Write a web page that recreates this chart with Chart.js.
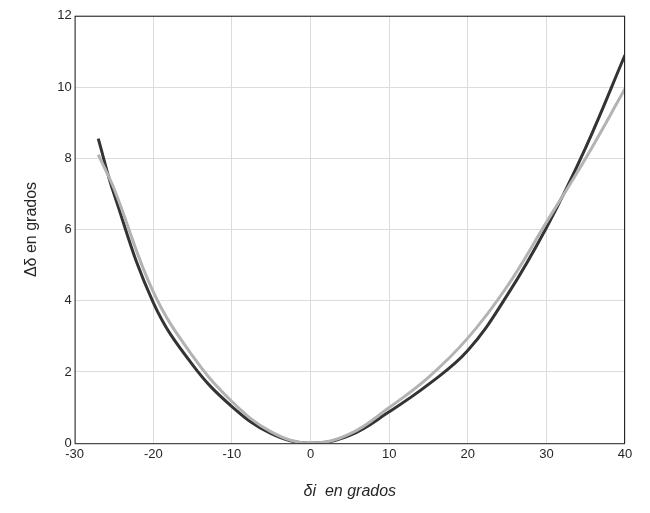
<!DOCTYPE html>
<html><head><meta charset="utf-8">
<script src="https://cdn.jsdelivr.net/npm/chart.js@4/dist/chart.umd.min.js"></script>
<style>html,body{margin:0;background:#fff}#w{width:650px;height:513px}</style>
</head><body><div id="w"><canvas id="c"></canvas></div>
<script>
const xValues=[-27,-25,-20,-15,-10,-5,0,5,10,15,20,25,30,35,40];
const darkY=[8.55,7.0,3.95,2.2,1.03,0.27,0,0.22,0.88,1.65,2.6,4.15,6.05,8.3,10.9];
const grayY=[8.1,7.15,4.25,2.45,1.17,0.32,0,0.26,1.0,1.85,2.95,4.4,6.2,8.0,9.95];
const xTicks=[-30,-20,-10,0,10,20,30,40];
const yTicks=[0,2,4,6,8,10,12];
const pts=ys=>xValues.map((x,i)=>({x,y:ys[i]}));
const F='"Liberation Sans", Arial, sans-serif';
const border={id:'b',afterDraw(c){const a=c.chartArea,g=c.ctx;g.save();g.strokeStyle='#262626';g.lineWidth=1;g.strokeRect(a.left+.5,a.top+.5,a.right-a.left-1,a.bottom-a.top);g.restore();}};
new Chart(document.getElementById('c'),{type:'line',
data:{datasets:[
{data:pts(grayY),borderColor:'#b3b3b3',borderWidth:3,pointRadius:0,tension:0.4},
{data:pts(darkY),borderColor:'#333333',borderWidth:3,pointRadius:0,tension:0.4}]},
options:{responsive:true,maintainAspectRatio:false,animation:false,
layout:{padding:{top:0,right:25,left:18,bottom:8}},
plugins:{legend:{display:false},tooltip:{enabled:false}},
scales:{
x:{type:'linear',min:-30,max:40,afterBuildTicks:s=>{s.ticks=xTicks.map(v=>({value:v}))},
grid:{color:'#dcdcdc',drawTicks:true,tickLength:-5},border:{display:false},
ticks:{color:'#262626',font:{family:F,size:13},padding:8},
title:{display:true,text:'δi  en grados',color:'#262626',font:{family:F,size:16,style:'italic'},padding:{top:12}}},
y:{min:0,max:12,afterBuildTicks:s=>{s.ticks=yTicks.map(v=>({value:v}))},
grid:{color:'#dcdcdc',tickLength:-5},border:{display:false},
ticks:{color:'#262626',font:{family:F,size:13},padding:8},
title:{display:true,text:'Δδ en grados',color:'#262626',font:{family:F,size:16},padding:{bottom:8}}}}},
plugins:[border]});
</script></body></html>
